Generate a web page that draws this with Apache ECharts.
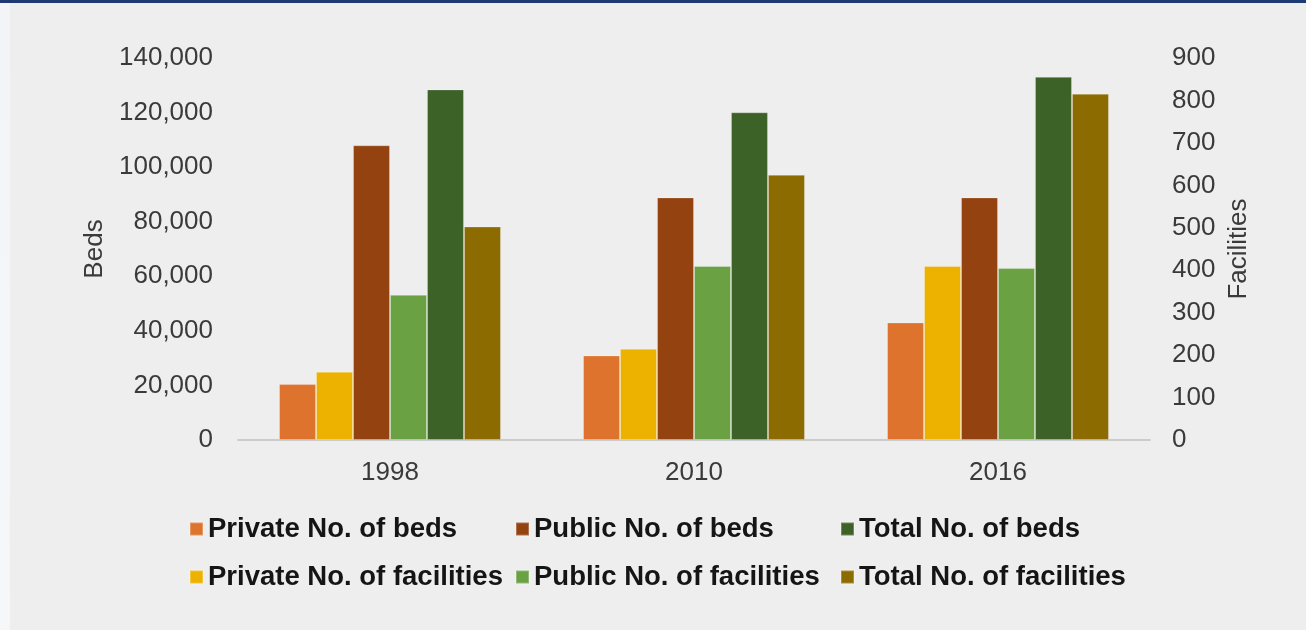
<!DOCTYPE html>
<html>
<head>
<meta charset="utf-8">
<script src="https://cdn.jsdelivr.net/npm/echarts@6/dist/echarts.min.js"></script>
<style>
  html, body { margin: 0; padding: 0; background: #eeeeee; }
  #topBand { position: absolute; left: 0; top: 0; width: 1306px; height: 3px; background: #1f3a73; z-index: 2; }
  #leftStrip { position: absolute; left: 0; top: 3px; width: 10px; height: 627px; background: linear-gradient(#f2f4f8, #f6f7f9); z-index: 2; }
  #chart { position: absolute; left: 0; top: 0; width: 1306px; height: 630px; }
</style>
</head>
<body>
<div id="topBand"></div>
<div id="leftStrip"></div>
<div id="chart"></div>
<script>
  // data
  var years = ["1998", "2010", "2016"];
  var privateBeds = [20500, 31000, 43100];
  var privateFacilities = [161, 215, 410];
  var publicBeds = [108000, 88900, 88900];
  var publicFacilities = [342, 410, 405];
  var totalBeds = [128500, 120100, 133100];
  var totalFacilities = [503, 625, 816];

  var bedsTicks = { min: 0, max: 140000, interval: 20000 };
  var facTicks = { min: 0, max: 900, interval: 100 };

  var colors = {
    privateBeds: "#de732e",
    privateFacilities: "#edb200",
    publicBeds: "#934210",
    publicFacilities: "#6aa243",
    totalBeds: "#3d6228",
    totalFacilities: "#8c6b00"
  };

  var font = "Liberation Sans, Arial, sans-serif";

  function bar(name, data, axis, color) {
    return {
      name: name,
      type: "bar",
      yAxisIndex: axis,
      data: data,
      barGap: "0%",
      barCategoryGap: "27%",
      itemStyle: { color: color, borderColor: "rgba(255,255,255,0.25)", borderWidth: 1 }
    };
  }

  function legend(name, left, top) {
    return {
      data: [name],
      left: left,
      top: top,
      padding: 0,
      icon: "rect",
      itemWidth: 13,
      itemHeight: 13,
      itemGap: 0,
      textStyle: { fontFamily: font, fontSize: 27.5, fontWeight: "bold", color: "#151515", lineHeight: 30 }
    };
  }

  let myChart = echarts.init(document.getElementById("chart"));

  myChart.setOption({
    backgroundColor: "transparent",
    animation: false,
    grid: { left: 238, right: 156, top: 58, bottom: 190 },
    legend: [
      legend("Private No. of beds", 189, 514),
      legend("Public No. of beds", 515, 514),
      legend("Total No. of beds", 840, 514),
      legend("Private No. of facilities", 189, 562),
      legend("Public No. of facilities", 515, 562),
      legend("Total No. of facilities", 840, 562)
    ],
    xAxis: {
      type: "category",
      data: years,
      axisLine: { lineStyle: { color: "#cccccc", width: 2 } },
      axisTick: { show: false },
      axisLabel: { fontFamily: font, fontSize: 26, color: "#3a3a3a", margin: 20 }
    },
    yAxis: [
      {
        type: "value",
        name: "Beds",
        nameLocation: "middle",
        nameRotate: 90,
        nameGap: 128,
        nameTextStyle: { fontFamily: font, fontSize: 26, color: "#3a3a3a" },
        min: bedsTicks.min,
        max: bedsTicks.max,
        interval: bedsTicks.interval,
        splitLine: { show: false },
        axisLine: { show: false },
        axisTick: { show: false },
        axisLabel: {
          fontFamily: font, fontSize: 26, color: "#3a3a3a", margin: 25,
          formatter: function (v) { return v.toLocaleString("en-US"); }
        }
      },
      {
        type: "value",
        name: "Facilities",
        nameLocation: "middle",
        nameRotate: 90,
        nameGap: 74,
        nameTextStyle: { fontFamily: font, fontSize: 26, color: "#3a3a3a" },
        min: facTicks.min,
        max: facTicks.max,
        interval: facTicks.interval,
        splitLine: { show: false },
        axisLine: { show: false },
        axisTick: { show: false },
        axisLabel: { fontFamily: font, fontSize: 26, color: "#3a3a3a", margin: 22 }
      }
    ],
    series: [
      bar("Private No. of beds", privateBeds, 0, colors.privateBeds),
      bar("Private No. of facilities", privateFacilities, 1, colors.privateFacilities),
      bar("Public No. of beds", publicBeds, 0, colors.publicBeds),
      bar("Public No. of facilities", publicFacilities, 1, colors.publicFacilities),
      bar("Total No. of beds", totalBeds, 0, colors.totalBeds),
      bar("Total No. of facilities", totalFacilities, 1, colors.totalFacilities)
    ]
  });
</script>
</body>
</html>
